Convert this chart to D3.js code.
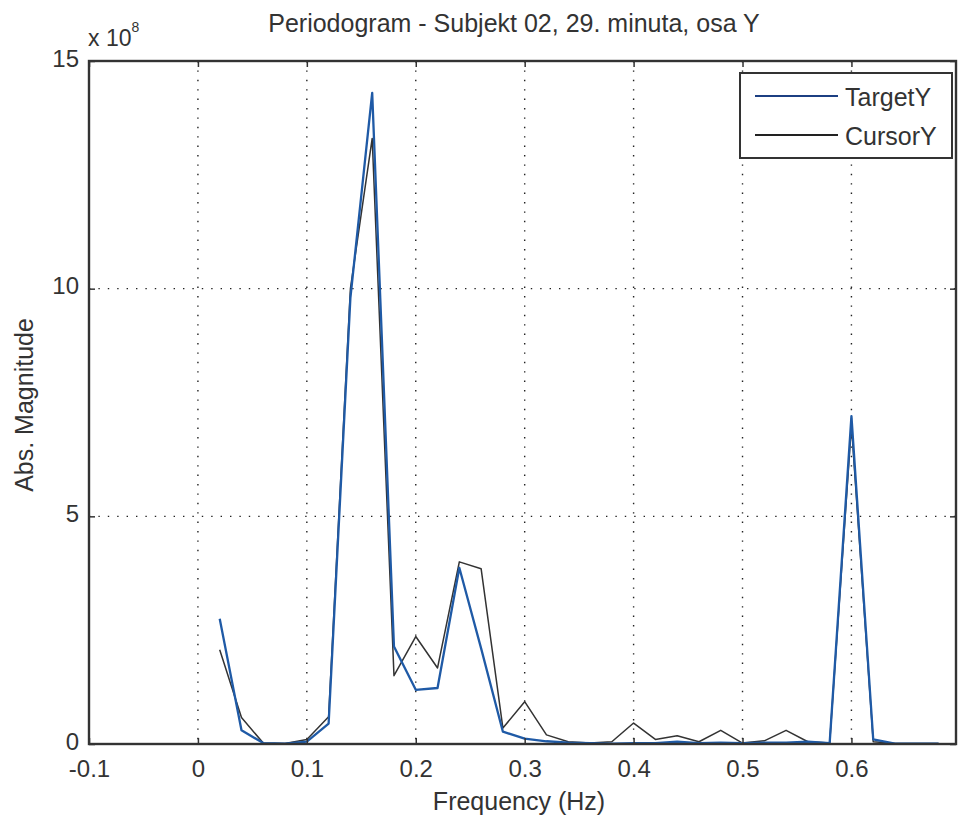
<!DOCTYPE html>
<html>
<head>
<meta charset="utf-8">
<script src="https://cdn.jsdelivr.net/npm/d3@7"></script>
<style>
  html, body { margin: 0; padding: 0; background: #fff; }
  svg { display: block; }
  text { font-family: "Liberation Sans", Arial, Helvetica, sans-serif; fill: #333; }
</style>
</head>
<body>
<svg id="chart" width="965" height="825"></svg>
<script>
// ---- data ----
const frequency = [0.02,0.04,0.06,0.08,0.10,0.12,0.14,0.16,0.18,0.20,0.22,0.24,0.26,0.28,0.30,0.32,0.34,0.36,0.38,0.40,0.42,0.44,0.46,0.48,0.50,0.52,0.54,0.56,0.58,0.60,0.62,0.64,0.66,0.68];
const targetY  = [2.75,0.30,0.02,0.01,0.05,0.45,9.8,14.3,2.14,1.19,1.23,3.87,2.1,0.27,0.12,0.06,0.03,0.02,0.01,0.02,0.02,0.05,0.02,0.03,0.02,0.03,0.03,0.05,0.02,7.2,0.10,0.01,0.01,0.01];
const cursorY  = [2.07,0.58,0.02,0.01,0.10,0.60,10.0,13.3,1.50,2.36,1.67,4.00,3.85,0.35,0.93,0.20,0.05,0.02,0.05,0.46,0.10,0.18,0.05,0.30,0.02,0.07,0.30,0.05,0.02,7.0,0.05,0.01,0.01,0.01];
const seriesNames = ["TargetY", "CursorY"];
const xTicks = [-0.1, 0, 0.1, 0.2, 0.3, 0.4, 0.5, 0.6];
const xTickLabels = ["-0.1", "0", "0.1", "0.2", "0.3", "0.4", "0.5", "0.6"];
const yTicks = [0, 5, 10, 15];
const yTickLabels = ["0", "5", "10", "15"];
const titleText = "Periodogram - Subjekt 02, 29. minuta, osa Y";
const xLabel = "Frequency (Hz)";
const yLabel = "Abs. Magnitude";

// ---- layout ----
const pL = 89, pR = 956, pT = 61, pB = 744;
const svg = d3.select("#chart");
const x = d3.scaleLinear().domain([-0.1, 0.696]).range([pL, pR]);
const y = d3.scaleLinear().domain([0, 15]).range([pB, pT]);
const colors = { TargetY: "#1f5aa6", CursorY: "#333333" };

// grid
const grid = svg.append("g").attr("stroke", "#222").attr("stroke-width", 1.4)
  .attr("stroke-dasharray", "1.4,8").attr("fill", "none");
grid.selectAll("line.gx").data(xTicks.slice(1)).join("line").attr("class", "gx")
  .attr("x1", d => x(d)).attr("x2", d => x(d)).attr("y1", pT).attr("y2", pB);
grid.selectAll("line.gy").data(yTicks.slice(1)).join("line").attr("class", "gy")
  .attr("y1", d => y(d)).attr("y2", d => y(d)).attr("x1", pL).attr("x2", pR);

// lines
const lineGen = (vals) => d3.line().x((d, i) => x(frequency[i])).y(d => y(d))(vals);
svg.append("path").attr("d", lineGen(cursorY)).attr("fill", "none")
  .attr("stroke", colors.CursorY).attr("stroke-width", 1.5).attr("stroke-linejoin", "round");
svg.append("path").attr("d", lineGen(targetY)).attr("fill", "none")
  .attr("stroke", colors.TargetY).attr("stroke-width", 2.3).attr("stroke-linejoin", "round");

// axes via d3 (inward ticks)
const xAxis = d3.axisBottom(x).tickValues(xTicks).tickSize(-6).tickPadding(16)
  .tickFormat((d, i) => xTickLabels[i]);
const gx = svg.append("g").attr("transform", `translate(0,${pB})`).call(xAxis);
gx.select(".domain").remove();
gx.selectAll("text").attr("font-size", 24).style("fill", "#333");
gx.selectAll("line").attr("stroke", "#333").attr("stroke-width", 1.5);

const xAxisTop = d3.axisTop(x).tickValues(xTicks).tickSize(-6).tickFormat("");
const gxt = svg.append("g").attr("transform", `translate(0,${pT})`).call(xAxisTop);
gxt.select(".domain").remove();
gxt.selectAll("line").attr("stroke", "#333").attr("stroke-width", 1.5);

const yAxis = d3.axisLeft(y).tickValues(yTicks).tickSize(-6).tickPadding(10)
  .tickFormat((d, i) => yTickLabels[i]);
const gy = svg.append("g").attr("transform", `translate(${pL},0)`).call(yAxis);
gy.select(".domain").remove();
gy.selectAll("text").attr("font-size", 24).attr("dy", "0.22em").style("fill", "#333");
gy.selectAll("line").attr("stroke", "#333").attr("stroke-width", 1.5);

const yAxisRight = d3.axisRight(y).tickValues(yTicks).tickSize(-6).tickFormat("");
const gyr = svg.append("g").attr("transform", `translate(${pR},0)`).call(yAxisRight);
gyr.select(".domain").remove();
gyr.selectAll("line").attr("stroke", "#333").attr("stroke-width", 1.5);

// frame
svg.append("rect").attr("x", pL).attr("y", pT).attr("width", pR - pL).attr("height", pB - pT)
  .attr("fill", "none").attr("stroke", "#333").attr("stroke-width", 2.4);

// title & labels
svg.append("text").attr("x", 514).attr("y", 32).attr("text-anchor", "middle")
  .attr("font-size", 25).text(titleText);
const mult = svg.append("text").attr("x", 88).attr("y", 46).attr("font-size", 23);
mult.append("tspan").text("x 10");
mult.append("tspan").attr("dy", -14).attr("font-size", 14).text("8");
svg.append("text").attr("x", 519).attr("y", 810).attr("text-anchor", "middle")
  .attr("font-size", 25).text(xLabel);
svg.append("text").attr("transform", `translate(33,${405}) rotate(-90)`)
  .attr("text-anchor", "middle").attr("font-size", 25).text(yLabel);

// legend
const lg = svg.append("g");
lg.append("rect").attr("x", 740).attr("y", 73).attr("width", 212).attr("height", 85)
  .attr("fill", "#fff").attr("stroke", "#333").attr("stroke-width", 2);
seriesNames.forEach((name, i) => {
  const ly = 96 + i * 39;
  lg.append("line").attr("x1", 755).attr("x2", 838).attr("y1", ly).attr("y2", ly)
    .attr("stroke", name === "TargetY" ? "#1c3f82" : "#222").attr("stroke-width", 2);
  lg.append("text").attr("x", 845).attr("y", ly + 10).attr("font-size", 25).text(name);
});
</script>
</body>
</html>
